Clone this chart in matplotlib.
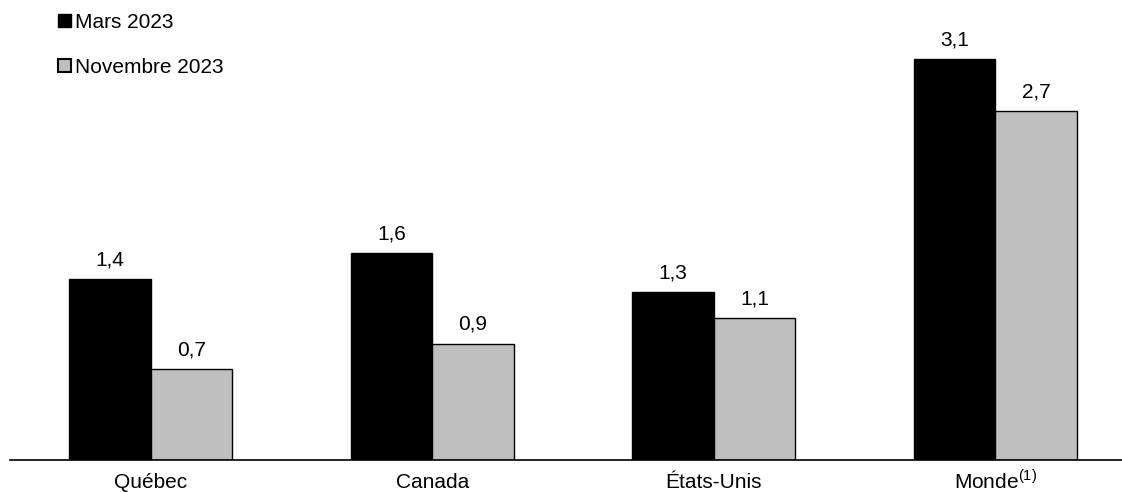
#!/usr/bin/env python3

import matplotlib
matplotlib.use('Agg')

import numpy as np
import matplotlib.pyplot as plt
from matplotlib.patches import Patch

plt.rcParams.update({
    "font.family": ["Liberation Sans", "DejaVu Sans"],
    "font.size": 15,
    "mathtext.fontset": "custom",
    "mathtext.rm": "Liberation Sans",
})

# data
regions = ['Québec', 'Canada', 'États-Unis', 'Monde$^{\\mathregular{(1)}}$']
mars_2023 = [1.4, 1.6, 1.3, 3.1]
nov_2023 = [0.7, 0.9, 1.1, 2.7]
series_names = ['Mars 2023', 'Novembre 2023']

black = '#000000'
grey = '#bfbfbf'

fig = plt.figure(figsize=(11.22, 4.92), dpi=100)
ax = fig.add_axes([10/1122, 32/492, 1 - 10/1122, 460/492])

x = np.arange(len(regions))
w = 0.29
b1 = ax.bar(x - w/2, mars_2023, w, color=black, edgecolor='black', linewidth=1.0)
b2 = ax.bar(x + w/2, nov_2023, w, color=grey, edgecolor='black', linewidth=1.0)

def fmt(v):
    return ('%.1f' % v).replace('.', ',')

for bars, vals in ((b1, mars_2023), (b2, nov_2023)):
    for r, v in zip(bars, vals):
        ax.annotate(fmt(v), (r.get_x() + r.get_width()/2, v),
                    xytext=(0, 7), textcoords='offset points',
                    ha='center', va='bottom', fontsize=15)

ax.set_xlim(-0.5, 3.45)
ax.set_ylim(0, 3.557)
ax.set_xticks(x)
ax.set_xticklabels(regions)
ax.tick_params(axis='x', length=0, pad=20.5, labelsize=15)
for lbl in ax.get_xticklabels():
    lbl.set_verticalalignment('baseline')
ax.set_yticks([])
for s in ('left', 'right', 'top'):
    ax.spines[s].set_visible(False)
ax.spines['bottom'].set_linewidth(1.2)

handles = [Patch(facecolor=black, edgecolor='black', linewidth=1.0),
           Patch(facecolor=grey, edgecolor='black', linewidth=1.5)]
ax.legend(handles, series_names, loc='upper left',
          bbox_to_anchor=(58/1122, 1 - 13/492), bbox_transform=fig.transFigure,
          frameon=False, borderpad=0, borderaxespad=0,
          handlelength=0.6, handleheight=0.6, handletextpad=0.2,
          labelspacing=1.25, fontsize=15)

plt.savefig('out.png', dpi=100)
